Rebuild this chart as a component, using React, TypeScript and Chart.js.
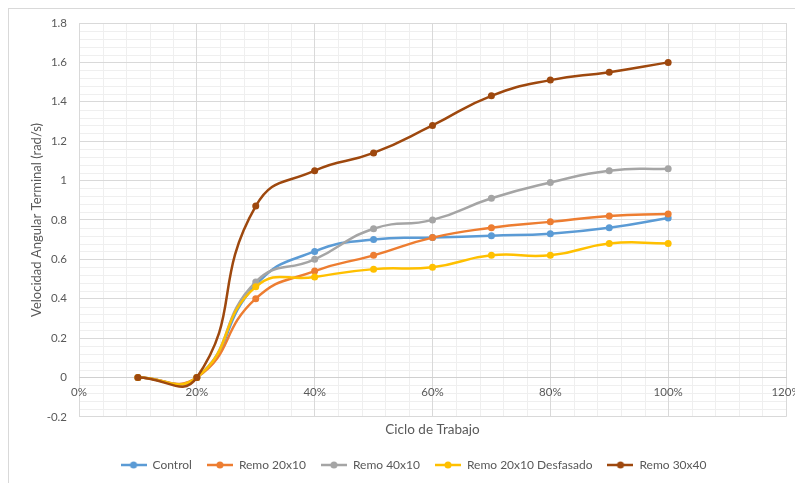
import React, { useEffect, useRef } from "react";
import { Chart, registerables } from "chart.js";

Chart.register(...registerables);

// Ciclo de trabajo (%) en el eje X
const ciclos = [10, 20, 30, 40, 50, 60, 70, 80, 90, 100];

// Velocidad angular terminal (rad/s) por configuración
const control = [0, 0, 0.47, 0.64, 0.70, 0.71, 0.72, 0.73, 0.76, 0.81];
const remo20x10 = [0, 0, 0.40, 0.54, 0.62, 0.71, 0.76, 0.79, 0.82, 0.83];
const remo40x10 = [0, 0, 0.485, 0.60, 0.755, 0.80, 0.91, 0.99, 1.05, 1.06];
const remo20x10Desfasado = [0, 0, 0.46, 0.51, 0.55, 0.56, 0.62, 0.62, 0.68, 0.68];
const remo30x40 = [0, 0, 0.87, 1.05, 1.14, 1.28, 1.43, 1.51, 1.55, 1.60];

const seriesNames = ["Control", "Remo 20x10", "Remo 40x10", "Remo 20x10 Desfasado", "Remo 30x40"];
const seriesValues = [control, remo20x10, remo40x10, remo20x10Desfasado, remo30x40];
const seriesColors = ["#5B9BD5", "#ED7D31", "#A5A5A5", "#FFC000", "#9E480E"];

const TEXT = "#595959";
const FONT = "Lato, 'Open Sans', sans-serif";

// Small line-with-marker swatch used in the legend
function legendSwatch(color: string): HTMLCanvasElement {
  const c = document.createElement("canvas");
  c.width = 26;
  c.height = 8;
  const g = c.getContext("2d")!;
  g.strokeStyle = color;
  g.lineWidth = 2.5;
  g.beginPath();
  g.moveTo(0, 4);
  g.lineTo(26, 4);
  g.stroke();
  g.fillStyle = color;
  g.beginPath();
  g.arc(13, 4, 3.5, 0, Math.PI * 2);
  g.fill();
  return c;
}

// Light minor gridlines between the major ones
const minorGrid = {
  id: "minorGrid",
  beforeDraw(chart: any) {
    const { ctx, chartArea: a, scales } = chart;
    const x = scales.x;
    const y = scales.y;
    ctx.save();
    ctx.strokeStyle = "#efefef";
    ctx.lineWidth = 1;
    ctx.beginPath();
    for (let i = 0; i <= 30; i++) {
      if (i % 5 === 0) continue;
      const px = Math.round(x.getPixelForValue(i * 4)) + 0.5;
      ctx.moveTo(px, a.top);
      ctx.lineTo(px, a.bottom);
    }
    for (let i = 0; i <= 50; i++) {
      if (i % 5 === 0) continue;
      const py = Math.round(y.getPixelForValue(-0.2 + i * 0.04)) + 0.5;
      ctx.moveTo(a.left, py);
      ctx.lineTo(a.right, py);
    }
    ctx.stroke();
    ctx.restore();
  },
};

// The legend sits a little right of the canvas centre
const legendShift = {
  id: "legendShift",
  afterLayout(chart: any) {
    const lg = chart.legend;
    if (lg) {
      lg.left += 16;
      lg.right += 16;
    }
  },
};

export default function App() {
  const ref = useRef<HTMLCanvasElement>(null);

  useEffect(() => {
    document.body.style.overflow = "hidden";
    const swatches = seriesColors.map(legendSwatch);
    const datasets = seriesNames.map((name, i) => ({
      label: name,
      data: ciclos.map((c, j) => ({ x: c, y: seriesValues[i][j] })),
      borderColor: seriesColors[i],
      backgroundColor: seriesColors[i],
      pointBackgroundColor: seriesColors[i],
      pointBorderColor: seriesColors[i],
      borderWidth: 2.5,
      pointRadius: 3.5,
      pointBorderWidth: 0,
      tension: 0.5,
      fill: false,
      order: seriesNames.length - i,
    }));

    const chart = new Chart(ref.current!, {
      type: "line",
      data: { datasets },
      plugins: [minorGrid, legendShift],
      options: {
        animation: false,
        responsive: false,
        layout: { padding: { top: 14, right: 17, left: 0, bottom: 2 } },
        font: { family: FONT },
        scales: {
          x: {
            type: "linear",
            position: { y: 0 } as any,
            min: 0,
            max: 120,
            afterFit: (s: any) => {
              s.paddingLeft = 0;
              s.paddingRight = 0;
            },
            ticks: {
              stepSize: 20,
              color: TEXT,
              padding: 8,
              font: { family: FONT, size: 11.5 },
              callback: (v: any) => `${v}%`,
            },
            grid: { color: "#d9d9d9", drawTicks: false },
            border: { display: true, color: "#d0d0d0" },
          },
          xTitle: {
            type: "linear",
            position: "bottom",
            min: 0,
            max: 120,
            ticks: { display: false },
            grid: { display: false, drawTicks: false },
            border: { display: false },
            title: {
              display: true,
              text: "Ciclo de Trabajo",
              color: TEXT,
              font: { family: FONT, size: 13.5 },
              padding: { top: 5, bottom: 6 },
            },
          },
          y: {
            type: "linear",
            min: -0.2,
            max: 1.8,
            afterFit: (s: any) => {
              s.width = 70;
              s.paddingTop = 0;
              s.paddingBottom = 0;
            },
            ticks: {
              stepSize: 0.2,
              color: TEXT,
              padding: 12,
              font: { family: FONT, size: 11.5 },
              callback: (v: any) => String(Number(Number(v).toFixed(1))),
            },
            grid: { color: "#d9d9d9", drawTicks: false },
            border: { display: false },
            title: {
              display: true,
              text: "Velocidad Angular Terminal (rad/s)",
              color: TEXT,
              font: { family: FONT, size: 13 },
              padding: { top: 20, bottom: 0 },
            },
          },
        },
        plugins: {
          tooltip: { enabled: false },
          legend: {
            position: "bottom",
            labels: {
              usePointStyle: true,
              pointStyleWidth: 26,
              boxHeight: 8,
              padding: 15,
              color: TEXT,
              font: { family: FONT, size: 12 },
              sort: (a: any, b: any) => a.datasetIndex - b.datasetIndex,
              generateLabels: (ch: any) => {
                const base = Chart.defaults.plugins.legend.labels.generateLabels(ch);
                return base.map((item: any) => ({
                  ...item,
                  pointStyle: swatches[item.datasetIndex],
                }));
              },
            },
          },
        },
      },
    } as any);
    return () => chart.destroy();
  }, []);

  return (
    <div
      style={{
        width: 795,
        height: 475,
        borderTop: "1px solid #d9d9d9",
        borderLeft: "1px solid #d9d9d9",
        boxSizing: "border-box",
      }}
    >
      <canvas ref={ref} width={794} height={474} style={{ display: "block" }} />
    </div>
  );
}
